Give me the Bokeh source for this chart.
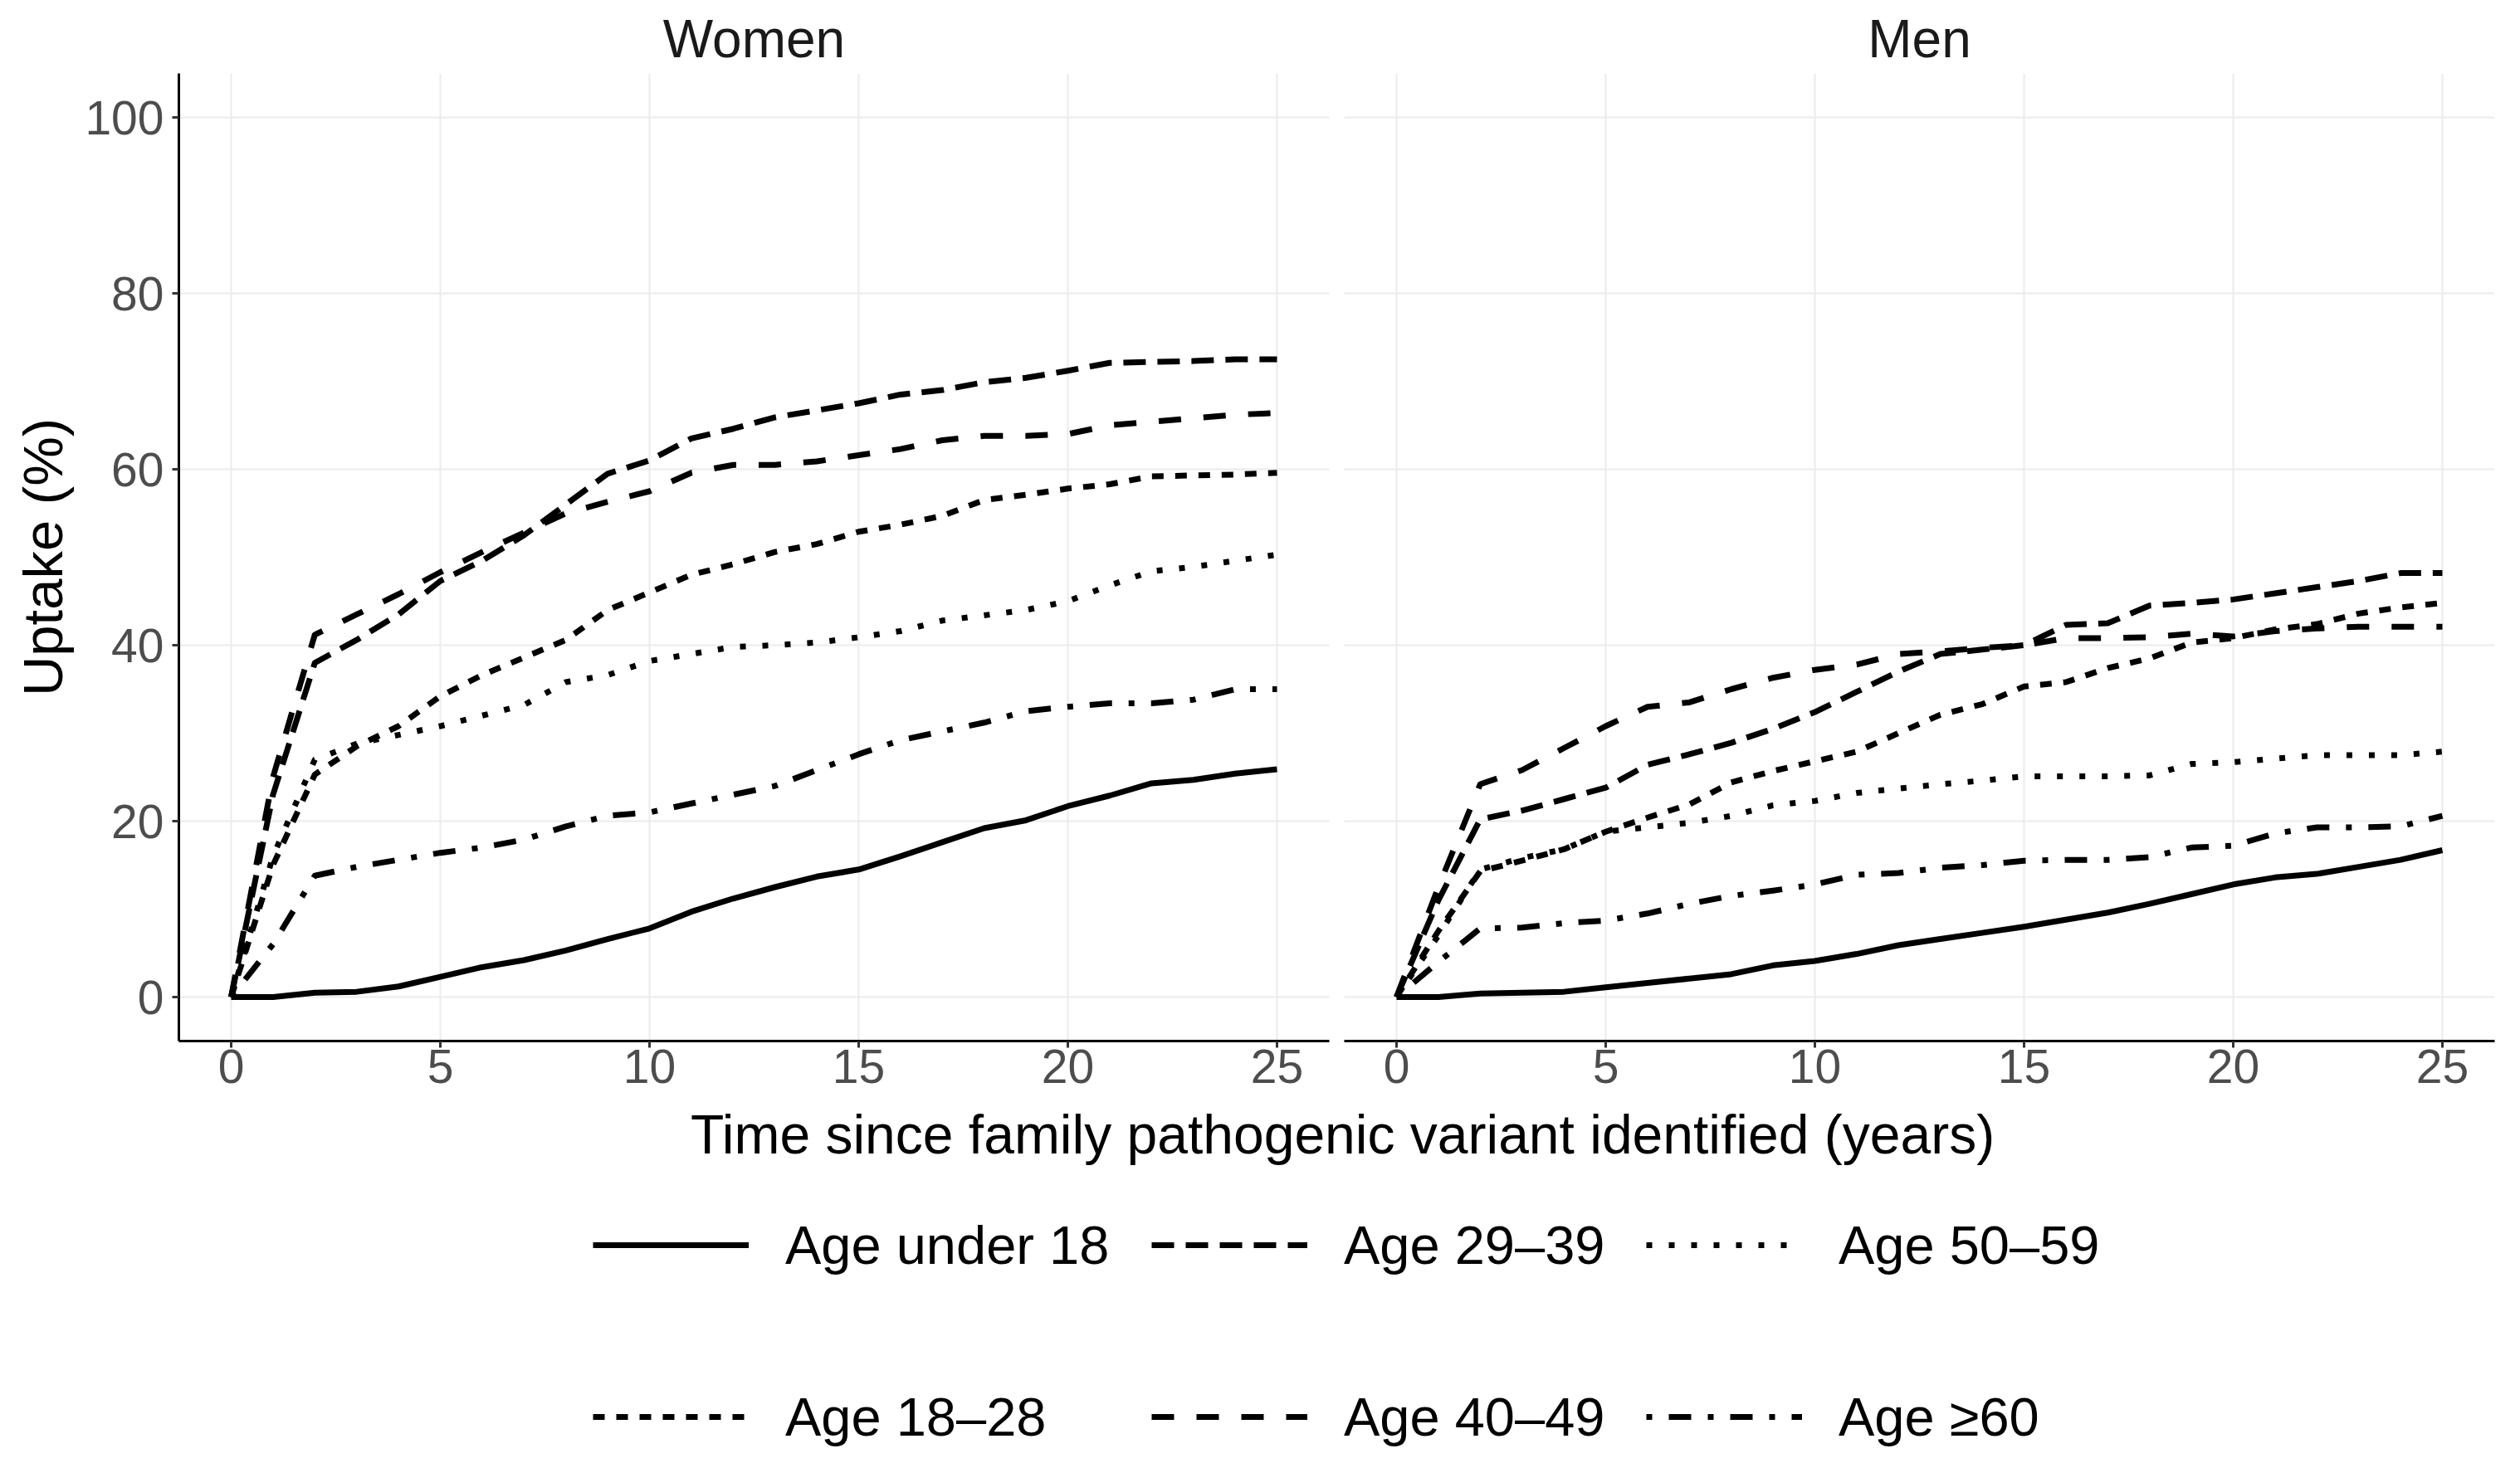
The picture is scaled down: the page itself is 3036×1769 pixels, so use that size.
from bokeh.plotting import figure
from bokeh.models import Range1d, Legend, LegendItem, Label, ColumnDataSource
from bokeh.layouts import column, row
from bokeh.embed import file_html
from bokeh.resources import INLINE

FONT = "Liberation Sans"

years = list(range(26))
groups = ["Age under 18", "Age 18–28", "Age 29–39", "Age 40–49", "Age 50–59", "Age ≥60"]
x_ticks = [0, 5, 10, 15, 20, 25]
y_ticks = [0, 20, 40, 60, 80, 100]

# Women
w_u18 = [0, 0, 0.5, 0.6, 1.2, 2.3, 3.4, 4.2, 5.3, 6.6, 7.8, 9.7, 11.2, 12.5, 13.7, 14.5, 16.0, 17.6, 19.2, 20.1, 21.7, 22.9, 24.3, 24.7, 25.4, 25.9]
w_18_28 = [0, 15, 25.3, 28.5, 30.8, 34.2, 36.6, 38.6, 40.6, 44.0, 46.0, 48.0, 49.2, 50.6, 51.5, 52.9, 53.7, 54.7, 56.5, 57.1, 57.8, 58.3, 59.2, 59.3, 59.4, 59.6]
w_29_39 = [0, 23, 38.0, 40.6, 43.5, 47.3, 49.6, 52.5, 56.0, 59.5, 61.0, 63.5, 64.6, 65.9, 66.7, 67.5, 68.5, 69.0, 69.9, 70.4, 71.2, 72.1, 72.2, 72.3, 72.5, 72.5]
w_40_49 = [0, 25, 41.2, 43.5, 45.8, 48.3, 50.6, 52.8, 55.0, 56.3, 57.5, 59.6, 60.5, 60.5, 60.9, 61.6, 62.3, 63.3, 63.8, 63.8, 64.0, 65.0, 65.4, 65.8, 66.2, 66.4]
w_50_59 = [0, 16, 27.0, 28.8, 29.8, 30.8, 32.0, 33.2, 35.8, 36.6, 38.2, 39.0, 39.8, 40.0, 40.3, 40.9, 41.6, 42.8, 43.4, 44.0, 45.0, 46.8, 48.4, 48.9, 49.6, 50.3]
w_60 = [0, 6, 13.8, 14.8, 15.6, 16.4, 17.0, 17.9, 19.4, 20.6, 21.0, 22.0, 23.0, 24.0, 25.8, 27.6, 29.2, 30.2, 31.2, 32.5, 33.0, 33.4, 33.4, 33.8, 35.0, 35.0]

# Men
m_u18 = [0, 0, 0.4, 0.5, 0.6, 1.1, 1.6, 2.1, 2.6, 3.6, 4.1, 4.9, 5.9, 6.6, 7.3, 8.0, 8.8, 9.6, 10.6, 11.7, 12.8, 13.6, 14.0, 14.8, 15.6, 16.7]
m_18_28 = [0, 7.5, 14.3, 15.5, 16.8, 18.8, 20.4, 21.9, 24.4, 25.7, 26.8, 27.9, 30.0, 32.1, 33.3, 35.3, 35.8, 37.4, 38.5, 40.3, 40.8, 41.8, 42.4, 43.6, 44.3, 44.8]
m_29_39 = [0, 11, 20.2, 21.2, 22.5, 23.8, 26.4, 27.6, 28.9, 30.5, 32.4, 34.7, 37.0, 39.0, 39.5, 40.0, 42.3, 42.5, 44.5, 44.8, 45.2, 45.9, 46.6, 47.3, 48.2, 48.2]
m_40_49 = [0, 12.5, 24.2, 25.8, 28.3, 30.8, 33.0, 33.5, 35.0, 36.3, 37.2, 37.8, 39.0, 39.3, 39.7, 40.0, 40.8, 40.8, 40.9, 41.3, 41.0, 41.6, 41.9, 42.1, 42.1, 42.1]
m_50_59 = [0, 7, 14.5, 15.8, 16.8, 18.8, 19.3, 19.8, 20.6, 21.8, 22.3, 23.2, 23.7, 24.2, 24.6, 25.1, 25.1, 25.1, 25.2, 26.5, 26.7, 27.1, 27.5, 27.5, 27.5, 27.9]
m_60 = [0, 4, 7.8, 7.9, 8.4, 8.7, 9.5, 10.6, 11.5, 12.1, 12.8, 13.9, 14.1, 14.7, 15.0, 15.5, 15.6, 15.6, 15.9, 17.0, 17.2, 18.6, 19.3, 19.3, 19.4, 20.6]

women = [w_u18, w_18_28, w_29_39, w_40_49, w_50_59, w_60]
men = [m_u18, m_18_28, m_29_39, m_40_49, m_50_59, m_60]

dashes = ["solid", "14 14", "27 14", "27 27", "7 20", "7 20 27 20"]
LW = 7

FRAME_W = 1386
FRAME_H = 1166
TOP = 88
BOTTOM = 74


def panel(title, series, left, right, show_y):
    p = figure(width=left + FRAME_W + right, height=TOP + FRAME_H + BOTTOM,
               x_range=Range1d(-1.25, 26.25), y_range=Range1d(-5, 105),
               output_backend="svg", toolbar_location=None, title=title,
               min_border_left=left, min_border_right=right,
               min_border_top=TOP, min_border_bottom=BOTTOM)
    p.outline_line_color = None
    p.background_fill_color = "white"
    p.title.align = "center"
    p.title.text_font = FONT
    p.title.text_font_size = "64px"
    p.title.text_font_style = "normal"
    p.title.text_color = "#1A1A1A"
    p.title.standoff = 12

    src = ColumnDataSource(dict(t=years, **{f"s{i}": s for i, s in enumerate(series)}))
    for i in range(len(series)):
        p.line(x="t", y=f"s{i}", source=src, line_color="black", line_width=LW,
               line_dash=dashes[i], line_join="round", line_cap="butt")

    p.xaxis.ticker = x_ticks
    p.yaxis.ticker = y_ticks
    for g in (p.xgrid[0], p.ygrid[0]):
        g.grid_line_color = "#EBEBEB"
        g.grid_line_width = 2
    for ax in (p.xaxis[0], p.yaxis[0]):
        ax.axis_line_color = "black"
        ax.axis_line_width = 3
        ax.major_tick_line_color = "#333333"
        ax.major_tick_line_width = 3
        ax.major_tick_in = 0
        ax.major_tick_out = 8
        ax.minor_tick_line_color = None
        ax.major_label_text_font = FONT
        ax.major_label_text_font_size = "57px"
        ax.major_label_text_color = "#4D4D4D"
    p.xaxis.major_label_standoff = 2
    p.yaxis.major_label_standoff = 10
    if show_y:
        p.yaxis.axis_label = "Uptake (%)"
        p.yaxis.axis_label_text_font = FONT
        p.yaxis.axis_label_text_font_size = "67px"
        p.yaxis.axis_label_text_font_style = "normal"
        p.yaxis.axis_label_text_color = "black"
        p.yaxis.axis_label_standoff = 10
    else:
        p.yaxis.visible = False
    return p


pw = panel("Women", women, 215, 9, True)
pm = panel("Men", men, 9, 15, False)

BW = 3020
BH = 1750 - (TOP + FRAME_H + BOTTOM)
bottom = figure(width=BW, height=BH, x_range=Range1d(0, BW), y_range=Range1d(0, BH),
                output_backend="svg", toolbar_location=None,
                x_axis_location=None, y_axis_location=None,
                min_border_left=0, min_border_right=0, min_border_top=0, min_border_bottom=0)
bottom.outline_line_color = None
bottom.grid.visible = False
bottom.xgrid.visible = False
bottom.ygrid.visible = False

bottom.add_layout(Label(x=1617, y=384, text="Time since family pathogenic variant identified (years)",
                        text_align="center", text_baseline="middle",
                        text_font=FONT, text_font_size="66px", text_color="black"))

nan = float("nan")
key_src = ColumnDataSource(dict(x=[nan, nan], y=[nan, nan]))
key_renderers = []
for i in range(len(groups)):
    r = bottom.line(x="x", y="y", source=key_src, line_color="black", line_width=LW,
                    line_dash=dashes[i], line_join="round", line_cap="butt")
    key_renderers.append(r)

col_x = [714, 1387, 1983]
for ci in range(3):
    items = [LegendItem(label=groups[2 * ci + k], renderers=[key_renderers[2 * ci + k]]) for k in range(2)]
    lg = Legend(items=items, location=(col_x[ci], 3), orientation="vertical",
                glyph_width=188, glyph_height=80, label_height=80, label_standoff=44,
                spacing=127, padding=0, margin=0, border_line_color=None,
                background_fill_alpha=0, label_text_font=FONT, label_text_font_size="65px",
                label_text_baseline="middle", label_text_color="black")
    bottom.add_layout(lg)

layout = column(row(pw, pm), bottom)
open("out.html", "w").write(file_html(layout, INLINE))
